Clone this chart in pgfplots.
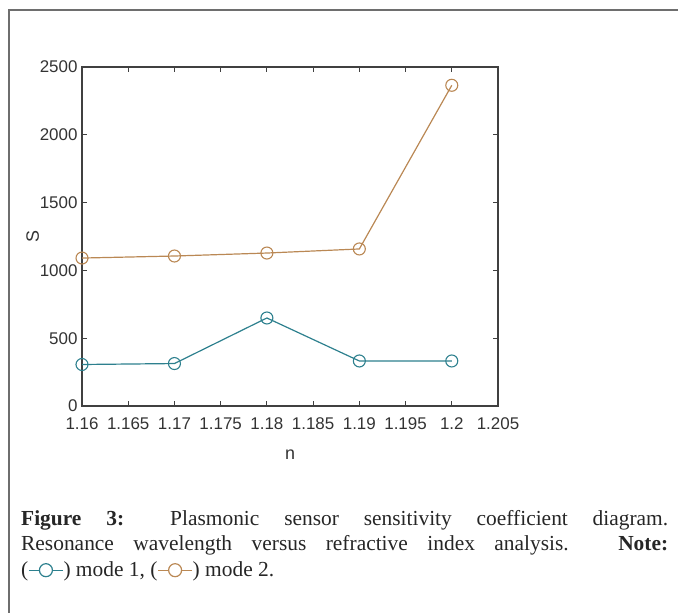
\documentclass[border=0pt]{standalone}
\usepackage{pgfplots}
\pgfplotsset{compat=1.18}
\usepackage{fontspec}
\setmainfont{Liberation Sans}
\newfontfamily\capfont{Liberation Serif}
\definecolor{modeone}{RGB}{45,128,142}
\definecolor{modetwo}{RGB}{186,136,84}
\definecolor{framegray}{RGB}{110,110,110}
\begin{document}
\begin{tikzpicture}[x=1bp,y=1bp]
\path[use as bounding box] (0,0) rectangle (678,613);
\draw[framegray, line width=1.4bp] (9,-2) -- (9,603) -- (680,603);
\begin{axis}[
  at={(82bp,207bp)}, anchor=south west,
  scale only axis, width=416bp, height=339bp,
  xmin=1.16, xmax=1.205, ymin=0, ymax=2500,
  xtick={1.16,1.165,1.17,1.175,1.18,1.185,1.19,1.195,1.2,1.205},
  xticklabels={1.16,1.165,1.17,1.175,1.18,1.185,1.19,1.195,1.2,1.205},
  ytick={0,500,1000,1500,2000,2500},
  yticklabels={0,500,1000,1500,2000,2500},
  tick label style={font=\fontsize{17}{19}\selectfont, text=black!80},
  /pgf/number format/assume math mode=true,
  label style={font=\fontsize{18}{20}\selectfont, text=black!80},
  xlabel={n}, ylabel={S},
  xlabel style={yshift=-14bp},
  ylabel style={yshift=-6bp},
  axis line style={black!75, line width=1.1bp},
  major tick length=5bp,
  tick style={black!75, line width=1bp},
  xticklabel style={yshift=-8bp},
  yticklabel style={xshift=-1bp},
]
\addplot[modeone, line width=1.2bp, mark=o, mark size=6bp, mark options={line width=1.1bp}]
  coordinates {(1.16,306) (1.17,313) (1.18,649) (1.19,332) (1.2,332)};
\addplot[modetwo, line width=1.2bp, mark=o, mark size=6bp, mark options={line width=1.1bp}]
  coordinates {(1.16,1091) (1.17,1106) (1.18,1128) (1.19,1158) (1.2,2365)};
\end{axis}
\node[anchor=north west, inner sep=0pt, text width=647bp, align=justify,
      font=\capfont\fontsize{21.5}{25.5}\selectfont, text=black!85] at (21,103)
{\textbf{Figure 3:} Plasmonic sensor sensitivity coefficient diagram.\linebreak
Resonance wavelength versus refractive index analysis. \textbf{Note:}\linebreak
(\tikz[baseline=-0.6ex]{\draw[modeone,line width=1.2bp] (0,0)--(34bp,0); \draw[modeone,line width=1.2bp,fill=white] (17bp,0) circle (6.5bp);}) mode 1, (\tikz[baseline=-0.6ex]{\draw[modetwo,line width=1.2bp] (0,0)--(34bp,0); \draw[modetwo,line width=1.2bp,fill=white] (17bp,0) circle (6.5bp);}) mode 2.};
\end{tikzpicture}
\end{document}
